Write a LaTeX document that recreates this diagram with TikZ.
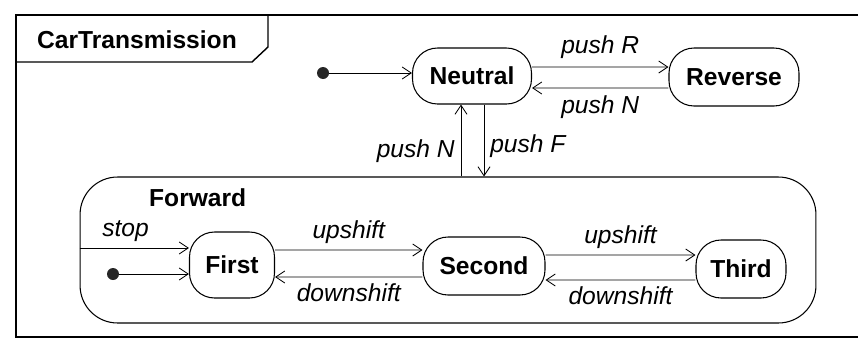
\documentclass[tikz,border=0pt]{standalone}
\usepackage{fontspec}
\setmainfont{Liberation Sans}
\usepackage{tikz}
\usetikzlibrary{arrows.meta, positioning, calc}

\begin{document}
\begin{tikzpicture}[
	x=0.02cm, y=-0.02cm,
	st/.style={rectangle, draw, rounded corners=0.5cm, line width=0.6pt, align=center, font=\fontsize{14}{16}\selectfont\bfseries},
	arr/.style={-{Straight Barb[length=1.8mm, width=2.4mm]}, line width=0.5pt},
	lbl/.style={font=\fontsize{14}{16}\selectfont\itshape},
	dot/.style={circle, fill=black!85, inner sep=0pt, minimum size=0.24cm}
	]
	\useasboundingbox (0,0) rectangle (868,345);
	
	% Rahmen mit Titel
	\draw[line width=0.8pt] (858,15) -- (16,15) -- (16,337) -- (858,337);
	\draw[line width=0.8pt] (16,62) -- (252,62) -- (268,47) -- (268,15);
	\node[anchor=west, font=\fontsize{14}{16}\selectfont\bfseries] (title) at (31,40) {CarTransmission};
	
	% Zustaende oben
	\node[dot] (init) at (323,73) {};
	\node[st, minimum width=2.38cm, minimum height=1.12cm] (neutral) at (472,76) {Neutral};
	\node[st, minimum width=2.6cm, minimum height=1.16cm] (reverse) at (734,77) {Reverse};
	
	% Forward mit Unterzustaenden
	\node[st, rounded corners=0.75cm, minimum width=14.72cm, minimum height=2.92cm] (forward) at (448,250) {};
	\node[anchor=west, font=\fontsize{14}{16}\selectfont\bfseries] (fwdname) at (143,198) {Forward};
	\node[dot] (init2) at (113,274) {};
	\node[st, minimum width=1.7cm, minimum height=1.32cm] (first) at (232,265) {First};
	\node[st, minimum width=2.44cm, minimum height=1.16cm] (second) at (484,266) {Second};
	\node[st, minimum width=1.8cm, minimum height=1.16cm] (third) at (741,269) {Third};
	
	\coordinate (pushn) at (461,0);
	\coordinate (pushf) at (484,0);
	\coordinate (stopin) at ([yshift=0.04cm]forward.west);
	
	% Uebergaenge oben
	\draw[arr] (init) -- (init -| neutral.west);
	\draw[arr] ([yshift=0.18cm]neutral.east) -- node[lbl, above=1pt] {push R} ([yshift=0.2cm]reverse.west);
	\draw[arr] ([yshift=-0.22cm]reverse.west) -- node[lbl, below=1pt] {push N} ([yshift=-0.24cm]neutral.east);
	% Neutral <-> Forward
	\draw[arr] (pushn |- forward.north) -- node[lbl, left, pos=0.35] {push N} (pushn |- neutral.south);
	\draw[arr] (pushf |- neutral.south) -- node[lbl, right, pos=0.58] {push F} (pushf |- forward.north);
	
	% Uebergaenge in Forward
	\draw[arr] (stopin) -- node[lbl, above, pos=0.42] {stop} (stopin -| first.west);
	\draw[arr] (init2) -- (init2 -| first.west);
	\draw[arr] ([yshift=0.3cm]first.east) -- node[lbl, above] {upshift} ([yshift=0.32cm]second.west);
	\draw[arr] ([yshift=-0.22cm]second.west) -- node[lbl, below] {downshift} ([yshift=-0.24cm]first.east);
	\draw[arr] ([yshift=0.22cm]second.east) -- node[lbl, above] {upshift} ([yshift=0.28cm]third.west);
	\draw[arr] ([yshift=-0.22cm]third.west) -- node[lbl, below] {downshift} ([yshift=-0.28cm]second.east);
\end{tikzpicture}
\end{document}
